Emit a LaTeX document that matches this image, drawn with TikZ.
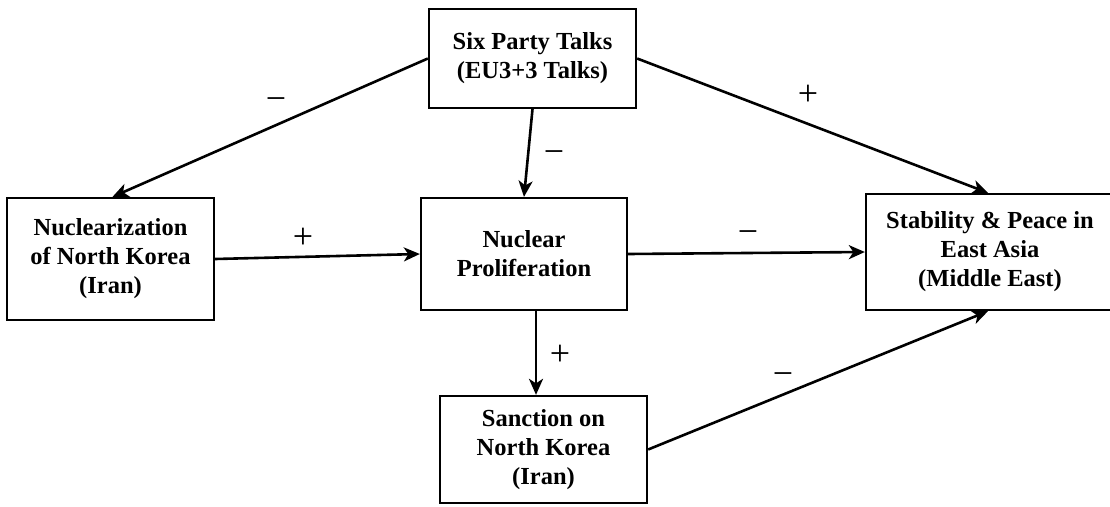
\documentclass[tikz,border=0pt]{standalone}
\usepackage{fontspec}
\setmainfont{Liberation Serif}
\usetikzlibrary{arrows.meta}
\begin{document}
\begin{tikzpicture}[x=1pt,y=-1pt,
  box/.style={draw=black, line width=2.3pt, rectangle, inner sep=0pt, align=center,
    font=\fontsize{24.5}{29}\selectfont\bfseries},
  boxtext/.style={inner sep=0pt, align=center, font=\fontsize{24.5}{29}\selectfont\bfseries},
  arr/.style={line width=2.6pt, -{Stealth[length=16pt,width=14pt,inset=4.5pt]}},
  sign/.style={font=\fontsize{36}{36}\selectfont, inner sep=0pt}]
\useasboundingbox (0,0) rectangle (1110,506);
\clip (0,0) rectangle (1110,506);
\node[box, minimum width=207pt, minimum height=99pt] (top) at (532.5,58.5) {Six Party Talks\\(EU3+3 Talks)};
\node[box, minimum width=207pt, minimum height=122pt] (left) at (110.5,259) {Nuclearization\\of North Korea\\(Iran)};
\node[box, minimum width=206pt, minimum height=112pt] (mid) at (524,254) {Nuclear\\Proliferation};
\node[box, minimum width=280pt, minimum height=116pt] (right) at (1006,252) {};
\node[boxtext] (rightlabel) at (990,252) {Stability \& Peace in\\East Asia\\(Middle East)};
\node[box, minimum width=207pt, minimum height=107pt] (bot) at (543.5,449.5) {Sanction on\\North Korea\\(Iran)};
\coordinate (rtop) at (988,194);
\coordinate (rbot) at (988,310);
\draw[arr] (top.west) -- ([xshift=2pt]left.north);
\draw[arr] (top.south) -- (mid.north);
\draw[arr] (top.east) -- (right.north -| rtop);
\draw[arr] (left.east) -- (mid.west);
\draw[arr] (mid.east) -- (right.west);
\draw[arr] ([xshift=12pt]mid.south) -- ([xshift=12pt]mid.south |- bot.north);
\draw[arr] (bot.east) -- (right.south -| rbot);
\node[sign] (s1) at (276,104) {−};
\node[sign] (s2) at (808,95) {+};
\node[sign] (s3) at (554,157) {−};
\node[sign] (s4) at (303,238) {+};
\node[sign] (s5) at (748,237) {−};
\node[sign] (s6) at (560,355) {+};
\node[sign] (s7) at (783,379) {−};
\end{tikzpicture}
\end{document}
